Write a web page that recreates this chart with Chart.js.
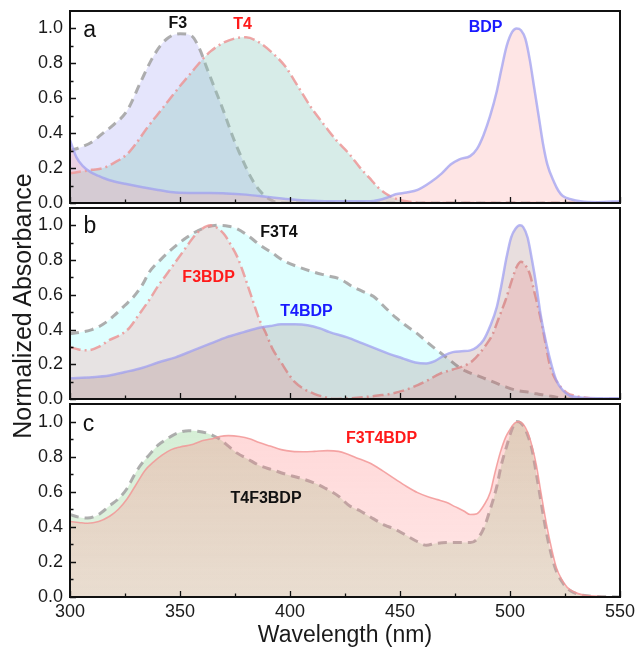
<!DOCTYPE html>
<html><head><meta charset="utf-8">
<script src="https://cdn.jsdelivr.net/npm/chart.js@4.4.1/dist/chart.umd.min.js"></script>
<style>
html,body{margin:0;padding:0;background:#fff;width:636px;height:649px;overflow:hidden;position:relative}
canvas{position:absolute;left:0}
#ytitle{position:absolute;left:-178px;top:291px;width:400px;height:30px;line-height:30px;text-align:center;
  transform:rotate(-90deg);font-family:"Liberation Sans",Arial,sans-serif;font-size:25px;color:#1a1a1a;white-space:nowrap}
</style></head><body>
<canvas id="ca" width="636" height="215" style="top:0px"></canvas>
<canvas id="cb" width="636" height="215" style="top:195px"></canvas>
<canvas id="cc" width="636" height="257" style="top:392px"></canvas>
<div id="ytitle">Normalized Absorbance</div>
<script>
// ---------- axis ticks ----------
const wavelengthTicks = [300, 350, 400, 450, 500, 550];
const absorbanceTicks = [0, 0.2, 0.4, 0.6, 0.8, 1.0];

// ---------- panel a ----------
const F3_nm  = [300,305,310,315,320,326,332,337,341,345,350,355,359,362,366,370,374,378,383,387,391,395,400,450,500,550];
const F3_abs = [0.30,0.32,0.35,0.40,0.45,0.53,0.69,0.82,0.90,0.95,0.97,0.96,0.88,0.78,0.65,0.52,0.38,0.26,0.13,0.06,0.02,0.0,0.0,0.0,0.0,0.0];

const T4_nm  = [300,305,310,315,320,326,330,335,340,345,350,356,360,364,370,376,380,386,392,398,404,410,416,421,427,432,436,440,444,448,453,460,500,550];
const T4_abs = [0.17,0.18,0.19,0.20,0.23,0.28,0.34,0.43,0.51,0.59,0.67,0.76,0.82,0.87,0.92,0.946,0.95,0.92,0.86,0.78,0.66,0.54,0.44,0.36,0.28,0.20,0.145,0.09,0.05,0.025,0.01,0.0,0.0,0.0];

const BDP_nm  = [300,303,306,309,313,318,325,333,340,348,360,371,380,386,393,401,410,417,430,438,444,448,453,458,464,469,473,477,482,485,488,491,494,496,498.5,501,503,505,507,509,511,513,515,517,520,522,524,528,532,540,550];
const BDP_abs = [0.36,0.26,0.21,0.18,0.155,0.13,0.11,0.09,0.075,0.06,0.057,0.055,0.048,0.04,0.03,0.02,0.013,0.01,0.01,0.012,0.03,0.05,0.06,0.075,0.12,0.17,0.22,0.25,0.27,0.31,0.39,0.50,0.64,0.76,0.90,0.98,1.0,0.99,0.94,0.82,0.66,0.50,0.34,0.22,0.12,0.07,0.04,0.02,0.01,0.005,0.01];

// ---------- panel b ----------
const F3T4_nm  = [300,305,310,315,320,325,329,333,336,341,346,353,360,367,372,376,381,386,392,398,404,411,417,423,428,433,438,443,448,453,458,463,467,472,476,480,485,490,494,498,503,508,512,517,521,528,550];
const F3T4_abs = [0.375,0.385,0.40,0.43,0.48,0.54,0.59,0.66,0.73,0.80,0.86,0.93,0.98,1.0,0.995,0.98,0.94,0.89,0.84,0.79,0.76,0.73,0.71,0.69,0.65,0.62,0.59,0.53,0.47,0.42,0.375,0.32,0.28,0.23,0.19,0.16,0.135,0.11,0.09,0.07,0.05,0.04,0.03,0.02,0.01,0.0,0.0];

const F3BDP_nm  = [300,304,308,313,318,323,327,331,336,340,344,348,352,356,359,364,367,370,373,376,379,383,386,389,392,396,399,402,406,411,416,420,433,440,446,452,458,463,468,474,479,483,486,489,492,495,498,501,503,505,507,509,511,514,516,518,520,523,526,529,533,540,550];
const F3BDP_abs = [0.30,0.285,0.28,0.30,0.34,0.37,0.41,0.48,0.57,0.65,0.72,0.79,0.86,0.93,0.97,1.0,0.985,0.95,0.89,0.82,0.72,0.57,0.46,0.38,0.29,0.21,0.15,0.10,0.06,0.03,0.01,0.0,0.01,0.02,0.03,0.05,0.08,0.11,0.145,0.17,0.19,0.22,0.26,0.31,0.37,0.47,0.57,0.69,0.76,0.79,0.77,0.72,0.62,0.46,0.33,0.20,0.13,0.07,0.035,0.02,0.01,0.0,0.0];

const T4BDP_nm  = [300,310,318,325,333,340,348,356,364,371,379,386,391,396,402,408,414,418,426,433,439,445,451,457,462,466,470,474,478,482,485,488,491,494,496,498.5,500.5,502.5,504.5,506,508,510,512,514,516.5,519,521,524,527,531,540,550];
const T4BDP_abs = [0.12,0.125,0.135,0.155,0.18,0.21,0.24,0.28,0.32,0.355,0.385,0.41,0.42,0.43,0.43,0.425,0.405,0.385,0.355,0.32,0.29,0.26,0.235,0.21,0.205,0.22,0.25,0.27,0.275,0.28,0.30,0.34,0.42,0.53,0.65,0.82,0.93,0.98,1.0,0.99,0.93,0.80,0.65,0.48,0.32,0.19,0.11,0.05,0.02,0.01,0.005,0.005];

// ---------- panel c ----------
const F3T4BDP_nm  = [300,304,308,313,318,322,326,330,334,338,342,346,350,356,360,364,368,372,377,382,386,391,396,401,406,411,417,422,426,431,436,442,448,453,458,463,467,471,475,479,482,485,488,491,493,495.5,498,500,502,504,506,508,510,512,514,516.5,519,521,523.5,526,529,533,540,550];
const F3T4BDP_abs = [0.43,0.425,0.42,0.43,0.46,0.50,0.56,0.64,0.72,0.77,0.81,0.84,0.855,0.87,0.89,0.90,0.915,0.92,0.915,0.90,0.88,0.86,0.84,0.83,0.828,0.83,0.834,0.83,0.815,0.79,0.765,0.72,0.67,0.63,0.595,0.57,0.555,0.54,0.515,0.49,0.47,0.475,0.52,0.595,0.70,0.82,0.91,0.955,0.99,1.0,0.985,0.94,0.86,0.75,0.60,0.42,0.27,0.17,0.10,0.055,0.03,0.012,0.004,0.0];

const T4F3BDP_nm  = [300,304,308,313,318,322,326,329,332,336,340,344,348,354,358,362,365,368,372,376,381,386,392,398,404,410,416,422,427,432,438,443,448,453,458,462,466,471,476,482,485,488,491,494,496,498.5,501,503,505,507.5,510,512,514,516.5,519,521,523.5,526,529,533,540,550];
const T4F3BDP_abs = [0.47,0.455,0.45,0.47,0.52,0.56,0.62,0.69,0.75,0.81,0.865,0.90,0.93,0.948,0.945,0.935,0.92,0.90,0.86,0.82,0.785,0.75,0.725,0.70,0.68,0.655,0.62,0.575,0.52,0.49,0.445,0.41,0.385,0.35,0.315,0.295,0.305,0.31,0.31,0.31,0.33,0.39,0.50,0.63,0.75,0.86,0.96,1.0,0.99,0.94,0.84,0.70,0.55,0.37,0.23,0.15,0.09,0.05,0.025,0.01,0.003,0.0];

// ---------- helpers ----------
const FONT = '"Liberation Sans", Arial, sans-serif';
function pts(xs, ys) { return xs.map((x, i) => ({ x: x, y: ys[i] })); }

const GRAY_DASH = { borderColor: 'rgba(165,165,165,0.9)', borderWidth: 3, borderDash: [9, 6] };
const RED_DASHDOT = { borderColor: 'rgba(236,150,150,0.85)', borderWidth: 2.5, borderDash: [11, 4, 2, 4] };
const BLUE_SOLID = { borderColor: 'rgba(160,160,240,0.75)', borderWidth: 2.5 };
const RED_SOLID = { borderColor: 'rgba(242,150,150,0.85)', borderWidth: 1.6 };

function ds(label, xs, ys, style, fillColor) {
  return Object.assign({
    label: label, data: pts(xs, ys), fill: 'origin', backgroundColor: fillColor,
    pointRadius: 0, cubicInterpolationMode: 'monotone', borderCapStyle: 'butt'
  }, style);
}

function gradFill(r, g, b, aTop, aBot) {
  return function (c) {
    const ch = c.chart, a = ch.chartArea;
    if (!a) return 'rgba(' + r + ',' + g + ',' + b + ',' + aBot + ')';
    const gr = ch.ctx.createLinearGradient(0, a.top, 0, a.bottom);
    gr.addColorStop(0, 'rgba(' + r + ',' + g + ',' + b + ',' + aTop + ')');
    gr.addColorStop(1, 'rgba(' + r + ',' + g + ',' + b + ',' + aBot + ')');
    return gr;
  };
}

const framePlugin = {
  id: 'frame',
  afterDatasetsDraw(chart, args, opts) {
    const ctx = chart.ctx, a = chart.chartArea, xs = chart.scales.x, ys = chart.scales.y;
    ctx.save();
    ctx.strokeStyle = '#111';
    ctx.lineWidth = 1.3;
    ctx.beginPath();
    const x0 = wavelengthTicks[0], x1 = wavelengthTicks[wavelengthTicks.length - 1];
    for (let v = x0; v <= x1; v += 25) {
      const px = Math.round(xs.getPixelForValue(v)) + 0.5;
      const L = (v % 50 === 0) ? 6 : 3.5;
      ctx.moveTo(px, a.bottom); ctx.lineTo(px, a.bottom - L);
    }
    for (let k = 0; k <= 10; k++) {
      const py = Math.round(ys.getPixelForValue(k / 10)) + 0.5;
      const L = (k % 2 === 0) ? 6 : 3.5;
      ctx.moveTo(a.left, py); ctx.lineTo(a.left + L, py);
    }
    ctx.stroke();
    ctx.lineWidth = 2;
    ctx.strokeRect(a.left, a.top, a.right - a.left, a.bottom - a.top);
    (opts.labels || []).forEach(function (t) {
      ctx.font = t.font;
      ctx.fillStyle = t.color;
      ctx.textAlign = 'center';
      ctx.textBaseline = 'middle';
      ctx.fillText(t.text, xs.getPixelForValue(t.nm), ys.getPixelForValue(t.v));
    });
    ctx.restore();
  }
};

function yAxis() {
  return {
    type: 'linear', min: 0, max: 1.1,
    afterBuildTicks: function (s) { s.ticks = absorbanceTicks.map(v => ({ value: v })); },
    afterFit: function (s) { s.width = 70; s.paddingTop = 0; s.paddingBottom = 0; },
    grid: { display: false, drawTicks: false }, border: { display: false },
    ticks: { padding: 7, color: '#1a1a1a', font: { family: FONT, size: 18 }, callback: v => Number(v).toFixed(1) }
  };
}

function xAxis(show) {
  if (!show) return { type: 'linear', min: 300, max: 550, display: false };
  return {
    type: 'linear', min: 300, max: 550,
    afterBuildTicks: function (s) { s.ticks = wavelengthTicks.map(v => ({ value: v })); },
    afterFit: function (s) { s.height = 52; s.paddingLeft = 0; s.paddingRight = 0; },
    grid: { display: false, drawTicks: false }, border: { display: false },
    ticks: { padding: 4, color: '#1a1a1a', font: { family: FONT, size: 18 }, maxRotation: 0, autoSkip: false },
    title: { display: true, text: 'Wavelength (nm)', color: '#1a1a1a', font: { family: FONT, size: 23 }, padding: { top: 0, bottom: 0 } }
  };
}

function makeChart(id, datasets, pad, showX, labels) {
  return new Chart(document.getElementById(id), {
    type: 'line',
    data: { datasets: datasets },
    options: {
      responsive: false, animation: false, devicePixelRatio: 1,
      layout: { padding: { top: pad[0], right: 16, bottom: pad[1], left: 0 } },
      scales: { x: xAxis(showX), y: yAxis() },
      plugins: { legend: { display: false }, tooltip: { enabled: false }, frame: { labels: labels } }
    },
    plugins: [framePlugin]
  });
}

const BOLD = 'bold 16px ' + FONT;
const LETTER = '23px ' + FONT;

// canvas A: top 0, area 11..203
makeChart('ca', [
  ds('BDP', BDP_nm, BDP_abs, BLUE_SOLID, 'rgba(250,160,160,0.28)'),
  ds('T4', T4_nm, T4_abs, RED_DASHDOT, 'rgba(140,200,190,0.35)'),
  ds('F3', F3_nm, F3_abs, GRAY_DASH, 'rgba(180,180,245,0.35)')
], [11, 12], false, [
  { text: 'a', nm: 308.9, v: 0.99, color: '#111', font: LETTER },
  { text: 'F3', nm: 349, v: 1.03, color: '#111', font: BOLD },
  { text: 'T4', nm: 378.4, v: 1.02, color: '#ff1a1a', font: BOLD },
  { text: 'BDP', nm: 488.9, v: 1.005, color: '#1a1aff', font: BOLD }
]);

// canvas B: top 195, area 208..399
makeChart('cb', [
  ds('T4BDP', T4BDP_nm, T4BDP_abs, BLUE_SOLID, 'rgba(140,90,90,0.2)'),
  ds('F3BDP', F3BDP_nm, F3BDP_abs, RED_DASHDOT, 'rgba(255,140,140,0.24)'),
  ds('F3T4', F3T4_nm, F3T4_abs, GRAY_DASH, 'rgba(150,255,255,0.3)')
], [13, 11], false, [
  { text: 'b', nm: 309.1, v: 0.99, color: '#111', font: LETTER },
  { text: 'F3T4', nm: 395, v: 0.96, color: '#111', font: BOLD },
  { text: 'F3BDP', nm: 363, v: 0.70, color: '#ff1a1a', font: BOLD },
  { text: 'T4BDP', nm: 407.5, v: 0.504, color: '#1a1aff', font: BOLD }
]);

// canvas C: top 392, area 404..597
makeChart('cc', [
  ds('F3T4BDP', F3T4BDP_nm, F3T4BDP_abs, RED_SOLID, gradFill(255, 130, 130, 0.32, 0.2)),
  ds('T4F3BDP', T4F3BDP_nm, T4F3BDP_abs, GRAY_DASH, gradFill(120, 200, 120, 0.32, 0.2))
], [12, 0], true, [
  { text: 'c', nm: 308.4, v: 0.985, color: '#111', font: LETTER },
  { text: 'F3T4BDP', nm: 441.6, v: 0.90, color: '#ff1a1a', font: BOLD },
  { text: 'T4F3BDP', nm: 389.1, v: 0.562, color: '#111', font: BOLD }
]);
</script>
</body></html>
